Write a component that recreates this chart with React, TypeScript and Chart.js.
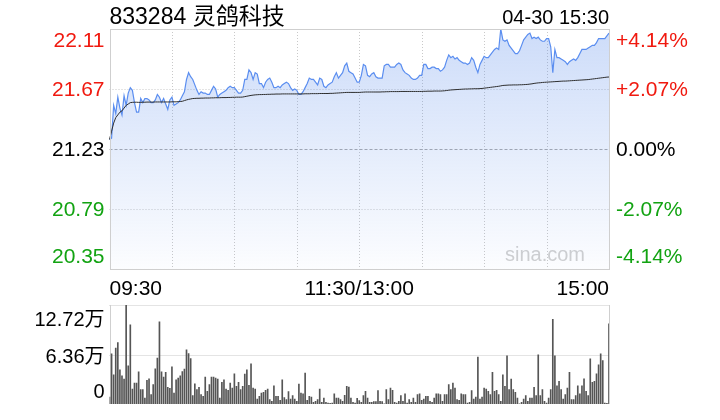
import React, { useEffect, useRef } from "react";
import { Chart, registerables } from "chart.js";

Chart.register(...registerables);

// ---------- data ----------
const TITLE = "833284 灵鸽科技";
const DATE_TIME = "04-30 15:30";
const WATERMARK = "sina.com";
const PREV_CLOSE = 21.23;
const PRICE_TICKS = [22.11, 21.67, 21.23, 20.79, 20.35];
const PCT_TICKS = ["+4.14%", "+2.07%", "0.00%", "-2.07%", "-4.14%"];
const TIME_LABELS = ["09:30", "11:30/13:00", "15:00"];
const VOL_TICKS = [12.72, 6.36, 0];
const VOL_TICK_LABELS = ["12.72万", "6.36万", "0"];

// minute categories 09:30..11:30, 13:01..15:00
const pad2 = (n: number) => (n < 10 ? "0" + n : "" + n);
const fmtMin = (m: number) => pad2(Math.floor(m / 60)) + ":" + pad2(m % 60);
const minutes: string[] = [];
for (let m = 9 * 60 + 30; m <= 11 * 60 + 30; m++) minutes.push(fmtMin(m));
for (let m = 13 * 60 + 1; m <= 15 * 60; m++) minutes.push(fmtMin(m));

const price = [
  21.30, 21.31, 21.55, 21.49, 21.61, 21.53, 21.48, 21.62, 21.55, 21.64,
  21.68, 21.66, 21.57, 21.50, 21.50, 21.60, 21.57, 21.60, 21.60, 21.59,
  21.57, 21.57, 21.59, 21.63, 21.61, 21.57, 21.60, 21.56, 21.52, 21.59,
  21.61, 21.55, 21.56, 21.57, 21.59, 21.62, 21.65, 21.74, 21.79, 21.76,
  21.74, 21.70, 21.66, 21.63, 21.65, 21.64, 21.64, 21.63, 21.63, 21.66,
  21.69, 21.67, 21.61, 21.63, 21.64, 21.65, 21.66, 21.68, 21.69, 21.68,
  21.68, 21.66, 21.64, 21.64, 21.66, 21.74, 21.74, 21.81, 21.79, 21.74,
  21.79, 21.78, 21.71, 21.71, 21.68, 21.72, 21.74, 21.75, 21.72, 21.68,
  21.68, 21.69, 21.68, 21.70, 21.71, 21.72, 21.71, 21.68, 21.66, 21.67,
  21.66, 21.63, 21.63, 21.65, 21.68, 21.71, 21.75, 21.74, 21.74, 21.72,
  21.70, 21.75, 21.74, 21.69, 21.68, 21.70, 21.71, 21.72, 21.76, 21.79,
  21.75, 21.77, 21.79, 21.84, 21.86, 21.80, 21.79, 21.78, 21.75, 21.72,
  21.72, 21.77, 21.85, 21.84, 21.77, 21.76, 21.78, 21.79, 21.76, 21.75,
  21.75, 21.75, 21.84, 21.85, 21.85, 21.83, 21.83, 21.83, 21.85, 21.86,
  21.85, 21.81, 21.79, 21.78, 21.77, 21.75, 21.74, 21.74, 21.75, 21.77,
  21.77, 21.85, 21.85, 21.82, 21.82, 21.83, 21.83, 21.82, 21.82, 21.80,
  21.81, 21.83, 21.88, 21.92, 21.90, 21.91, 21.89, 21.90, 21.88, 21.87,
  21.86, 21.86, 21.85, 21.86, 21.90, 21.88, 21.83, 21.79, 21.85, 21.88,
  21.91, 21.90, 21.90, 21.92, 21.94, 21.96, 21.97, 21.96, 22.11, 22.03,
  22.02, 22.03, 21.99, 21.97, 21.95, 21.93, 21.93, 21.95, 21.99, 22.03,
  22.05, 22.07, 22.08, 22.04, 22.05, 22.04, 22.05, 22.03, 22.02, 22.02,
  22.04, 22.04, 21.98, 21.79, 21.96, 21.90, 21.90, 21.89, 21.88, 21.87,
  21.85, 21.87, 21.88, 21.89, 21.88, 21.90, 21.93, 21.96, 21.96, 21.96,
  21.97, 21.98, 21.99, 21.99, 22.01, 22.04, 22.04, 22.04, 22.04, 22.06,
  22.08,
];

const avgPrice = [
  21.30, 21.36, 21.42, 21.46, 21.48, 21.50, 21.51, 21.53, 21.55, 21.56,
  21.570, 21.572, 21.573, 21.573, 21.572, 21.572, 21.573, 21.573, 21.574, 21.574,
  21.574, 21.574, 21.575, 21.575, 21.575, 21.575, 21.575, 21.575, 21.575, 21.575,
  21.576, 21.576, 21.576, 21.577, 21.578, 21.580, 21.585, 21.590, 21.594, 21.597,
  21.600, 21.601, 21.602, 21.602, 21.603, 21.603, 21.604, 21.604, 21.604, 21.605,
  21.605, 21.606, 21.606, 21.606, 21.607, 21.607, 21.607, 21.608, 21.608, 21.609,
  21.609, 21.610, 21.610, 21.610, 21.611, 21.614, 21.617, 21.620, 21.623, 21.625,
  21.627, 21.628, 21.629, 21.629, 21.630, 21.630, 21.631, 21.631, 21.632, 21.632,
  21.633, 21.633, 21.633, 21.634, 21.634, 21.634, 21.634, 21.634, 21.634, 21.634,
  21.634, 21.634, 21.634, 21.634, 21.635, 21.635, 21.635, 21.636, 21.636, 21.636,
  21.636, 21.637, 21.637, 21.637, 21.637, 21.637, 21.638, 21.638, 21.639, 21.640,
  21.641, 21.642, 21.643, 21.644, 21.645, 21.645, 21.645, 21.645, 21.645, 21.645,
  21.645, 21.646, 21.647, 21.648, 21.648, 21.648, 21.648, 21.648, 21.648, 21.648,
  21.648, 21.649, 21.649, 21.650, 21.650, 21.651, 21.651, 21.651, 21.651, 21.651,
  21.652, 21.652, 21.652, 21.652, 21.652, 21.652, 21.652, 21.652, 21.652, 21.652,
  21.652, 21.653, 21.653, 21.654, 21.654, 21.654, 21.655, 21.655, 21.655, 21.655,
  21.656, 21.657, 21.659, 21.661, 21.663, 21.664, 21.665, 21.666, 21.667, 21.668,
  21.669, 21.670, 21.670, 21.671, 21.671, 21.672, 21.672, 21.672, 21.673, 21.674,
  21.676, 21.678, 21.680, 21.682, 21.684, 21.686, 21.688, 21.690, 21.693, 21.696,
  21.697, 21.698, 21.699, 21.699, 21.700, 21.700, 21.700, 21.701, 21.701, 21.702,
  21.703, 21.704, 21.706, 21.708, 21.711, 21.713, 21.715, 21.716, 21.718, 21.719,
  21.720, 21.721, 21.722, 21.723, 21.724, 21.725, 21.726, 21.727, 21.728, 21.728,
  21.729, 21.730, 21.731, 21.732, 21.733, 21.734, 21.735, 21.736, 21.737, 21.738,
  21.739, 21.741, 21.743, 21.745, 21.747, 21.749, 21.751, 21.753, 21.755, 21.757,
  21.758,
];

// volume in 万股
const volume = [
  0.90, 6.45, 3.76, 7.17, 7.90, 4.40, 3.63, 3.20, 12.72, 4.91,
  10.16, 1.92, 2.69, 2.69, 4.14, 1.84, 1.84, 0.77, 3.03, 3.25,
  1.20, 2.48, 4.53, 5.89, 10.55, 4.14, 3.46, 4.06, 2.14, 2.01,
  4.78, 1.41, 3.12, 3.33, 3.63, 4.18, 4.48, 6.96, 6.49, 5.85,
  1.07, 2.60, 1.84, 2.14, 1.20, 0.98, 3.46, 1.62, 2.48, 3.46,
  3.46, 3.33, 3.20, 0.77, 2.78, 3.12, 1.92, 1.75, 2.69, 2.05,
  3.89, 2.26, 2.78, 1.84, 2.26, 3.84, 4.40, 2.39, 5.17, 2.05,
  1.92, 0.64, 0.98, 1.41, 1.49, 1.75, 1.92, 0.56, 0.34, 2.35,
  0.98, 0.98, 0.47, 3.12, 0.81, 0.56, 1.58, 0.64, 1.07, 0.64,
  0.34, 2.56, 1.41, 1.32, 3.97, 0.47, 0.98, 0.90, 0.21, 0.34,
  0.56, 1.92, 0.21, 0.77, 0.21, 0.13, 0.09, 0.13, 1.32, 0.77,
  0.77, 0.56, 0.34, 1.11, 2.26, 2.18, 0.77, 0.21, 0.13, 0.73,
  0.45, 0.21, 1.07, 1.62, 0.77, 0.21, 0.21, 0.30, 0.30, 1.71,
  0.34, 0.30, 0.02, 1.84, 0.56, 2.05, 1.75, 0.21, 0.13, 0.34,
  1.07, 0.34, 1.32, 0.13, 0.56, 0.21, 0.77, 0.21, 1.20, 1.32,
  0.47, 0.64, 0.98, 0.98, 0.34, 0.21, 0.77, 1.32, 1.32, 1.20,
  0.34, 1.20, 1.20, 2.48, 1.84, 2.69, 2.05, 0.56, 0.47, 1.32,
  1.20, 1.20, 0.13, 0.21, 1.71, 0.64, 0.90, 6.02, 0.64, 0.90,
  2.05, 1.92, 1.62, 1.20, 4.06, 1.62, 1.75, 1.20, 0.34, 3.76,
  2.26, 6.19, 1.84, 3.20, 1.84, 1.49, 0.77, 0.02, 0.21, 0.64,
  1.07, 0.34, 0.77, 0.77, 2.14, 1.07, 6.32, 1.07, 1.84, 0.34,
  0.13, 0.77, 1.84, 10.89, 6.19, 2.35, 2.90, 1.84, 0.64, 1.20,
  2.05, 4.06, 0.56, 0.56, 1.07, 2.35, 1.32, 2.35, 3.25, 1.62,
  1.07, 5.81, 2.78, 2.90, 3.89, 5.04, 6.45, 5.59, 0.13, 0.09,
  10.29,
];

// ---------- styling ----------
const FONT = '"Liberation Sans", Arial, "Noto Sans CJK SC", sans-serif';
const RED = "#f0190f";
const GREEN = "#12a312";
const GRID = "#c9c9c9";
const BORDER = "#cfcfcf";

function colorFor(v: number) {
  if (v > PREV_CLOSE + 1e-9) return RED;
  if (v < PREV_CLOSE - 1e-9) return GREEN;
  return "#000";
}

function drawText(
  ctx: CanvasRenderingContext2D,
  s: string,
  x: number,
  y: number,
  align: CanvasTextAlign,
  color: string,
  size: number
) {
  ctx.font = `${size}px ${FONT}`;
  ctx.fillStyle = color;
  ctx.textAlign = align;
  ctx.textBaseline = "alphabetic";
  ctx.fillText(s, x, y);
}

const priceDecor = {
  id: "priceDecor",
  beforeDatasetsDraw(chart: any) {
    const { ctx, chartArea: a, scales } = chart;
    const x = scales.x;
    const y = scales.y;
    ctx.save();
    drawText(ctx, WATERMARK, a.right - 24, a.bottom - 8, "right", "#d0d0d0", 20);
    ctx.lineWidth = 1;
    ctx.strokeStyle = GRID;
    ctx.setLineDash([1, 2]);
    for (let k = 30; k < minutes.length - 1; k += 30) {
      const px = Math.round(x.getPixelForValue(k)) + 0.5;
      ctx.beginPath();
      ctx.moveTo(px, a.top);
      ctx.lineTo(px, a.bottom);
      ctx.stroke();
    }
    PRICE_TICKS.forEach((v, k) => {
      if (k === 0 || k === PRICE_TICKS.length - 1) return;
      const py = Math.round(y.getPixelForValue(v)) + 0.5;
      if (Math.abs(v - PREV_CLOSE) < 1e-9) {
        ctx.strokeStyle = "#aaaaaa";
        ctx.setLineDash([3, 2]);
      } else {
        ctx.strokeStyle = GRID;
        ctx.setLineDash([1, 2]);
      }
      ctx.beginPath();
      ctx.moveTo(a.left, py);
      ctx.lineTo(a.right, py);
      ctx.stroke();
    });
    ctx.restore();
  },
  afterDatasetsDraw(chart: any) {
    const { ctx, chartArea: a } = chart;
    ctx.save();
    ctx.strokeStyle = BORDER;
    ctx.lineWidth = 1;
    ctx.setLineDash([]);
    ctx.strokeRect(
      Math.round(a.left) + 0.5,
      Math.round(a.top) + 0.5,
      Math.round(a.right) - Math.round(a.left),
      Math.round(a.bottom) - Math.round(a.top)
    );
    ctx.restore();
  },
  afterDraw(chart: any) {
    const { ctx, chartArea: a, scales } = chart;
    const x = scales.x;
    const y = scales.y;
    ctx.save();
    drawText(ctx, TITLE, a.left, 24, "left", "#000", 23);
    drawText(ctx, DATE_TIME, a.right, 24, "right", "#000", 20);
    const last = PRICE_TICKS.length - 1;
    PRICE_TICKS.forEach((v, k) => {
      const py = y.getPixelForValue(v);
      const by = k === 0 ? py + 18 : k === last ? py - 6 : py + 7;
      drawText(ctx, v.toFixed(2), a.left - 5, by, "right", colorFor(v), 21);
      drawText(ctx, PCT_TICKS[k], a.right + 7, by, "left", colorFor(v), 21);
    });
    const ty = a.bottom + 26;
    drawText(ctx, TIME_LABELS[0], x.getPixelForValue(0), ty, "left", "#000", 21);
    drawText(ctx, TIME_LABELS[1], x.getPixelForValue(120), ty, "center", "#000", 21);
    drawText(ctx, TIME_LABELS[2], x.getPixelForValue(minutes.length - 1), ty, "right", "#000", 21);
    ctx.restore();
  },
};

const volDecor = {
  id: "volDecor",
  beforeDatasetsDraw(chart: any) {
    const { ctx, chartArea: a, scales } = chart;
    const y = scales.y;
    ctx.save();
    ctx.lineWidth = 1;
    ctx.strokeStyle = GRID;
    ctx.setLineDash([1, 1]);
    VOL_TICKS.forEach((v) => {
      if (v === 0) return;
      const py = Math.round(y.getPixelForValue(v)) + 0.5;
      ctx.beginPath();
      ctx.moveTo(a.left, py);
      ctx.lineTo(a.right, py);
      ctx.stroke();
    });
    ctx.setLineDash([]);
    ctx.strokeStyle = BORDER;
    [a.left, a.right].forEach((xx: number) => {
      const px = Math.round(xx) + 0.5;
      ctx.beginPath();
      ctx.moveTo(px, a.top);
      ctx.lineTo(px, a.bottom);
      ctx.stroke();
    });
    ctx.restore();
  },
  afterDraw(chart: any) {
    const { ctx, chartArea: a, scales } = chart;
    const y = scales.y;
    ctx.save();
    const last = VOL_TICKS.length - 1;
    VOL_TICKS.forEach((v, k) => {
      const py = y.getPixelForValue(v);
      const by = k === 0 ? py + 21 : k === last ? py - 6 : py + 8;
      drawText(ctx, VOL_TICK_LABELS[k], a.left - 5, by, "right", "#000", 20);
    });
    ctx.restore();
  },
};

export default function App() {
  const priceRef = useRef<HTMLCanvasElement>(null);
  const volRef = useRef<HTMLCanvasElement>(null);

  useEffect(() => {
    const priceChart = new Chart(priceRef.current as HTMLCanvasElement, {
      type: "line",
      data: {
        labels: minutes,
        datasets: [
          {
            data: avgPrice,
            borderColor: "#2e2e2e",
            borderWidth: 1,
            pointRadius: 0,
            fill: false,
            tension: 0,
          },
          {
            data: price,
            borderColor: "#5b8ef0",
            borderWidth: 1.2,
            pointRadius: 0,
            tension: 0,
            fill: "start",
            backgroundColor: (c: any) => {
              const chart = c.chart;
              const a = chart.chartArea;
              if (!a) return "rgba(90,140,235,0.2)";
              const g = chart.ctx.createLinearGradient(0, a.top, 0, a.bottom);
              g.addColorStop(0, "rgba(90,140,235,0.30)");
              g.addColorStop(1, "rgba(90,140,235,0.02)");
              return g;
            },
          },
        ],
      },
      options: {
        responsive: false,
        maintainAspectRatio: false,
        animation: false,
        layout: { padding: { left: 109.5, right: 111, top: 29, bottom: 31 } },
        plugins: { legend: { display: false }, tooltip: { enabled: false } },
        scales: {
          x: { type: "category", display: false, offset: false },
          y: { display: false, min: 20.35, max: 22.11 },
        },
      },
      plugins: [priceDecor],
    } as any);

    const volChart = new Chart(volRef.current as HTMLCanvasElement, {
      type: "bar",
      data: {
        labels: minutes,
        datasets: [
          {
            data: volume,
            backgroundColor: "#555555",
            barThickness: 1,
            borderWidth: 0,
          },
        ],
      },
      options: {
        responsive: false,
        maintainAspectRatio: false,
        animation: false,
        layout: { padding: { left: 109.5, right: 111, top: 5, bottom: 16 } },
        plugins: { legend: { display: false }, tooltip: { enabled: false } },
        scales: {
          x: { type: "category", display: false, offset: false, grid: { offset: false } },
          y: { display: false, min: 0, max: 12.72 },
        },
      },
      plugins: [volDecor],
    } as any);

    return () => {
      priceChart.destroy();
      volChart.destroy();
    };
  }, []);

  return (
    <div
      style={{
        position: "fixed",
        left: 0,
        top: 0,
        width: 720,
        height: 420,
        background: "#fff",
      }}
    >
      <canvas
        ref={priceRef}
        width={720}
        height={300}
        style={{ position: "absolute", left: 0, top: 0, width: 720, height: 300 }}
      />
      <canvas
        ref={volRef}
        width={720}
        height={120}
        style={{ position: "absolute", left: 0, top: 300, width: 720, height: 120 }}
      />
    </div>
  );
}
